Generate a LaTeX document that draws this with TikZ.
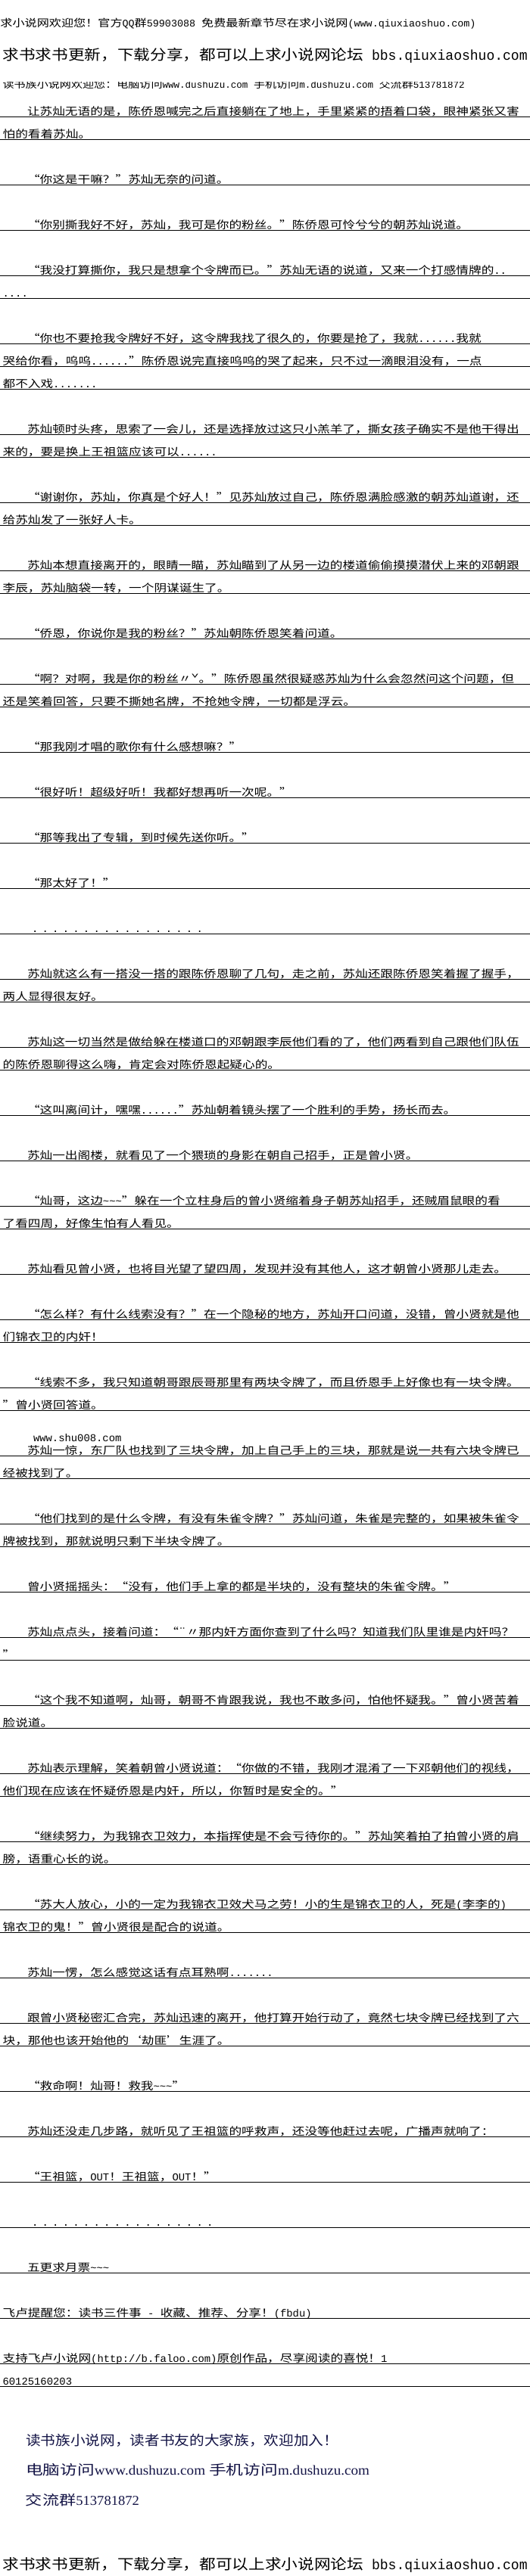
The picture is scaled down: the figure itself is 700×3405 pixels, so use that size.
\documentclass[tikz,border=0pt]{standalone}
\usepackage{fontspec}
\usepackage{graphicx}
\newfontfamily\cjk[FakeStretch=1.19]{Noto Sans CJK SC}
\newfontfamily\latf[Scale=0.99]{Liberation Mono}
\newfontfamily\serf{Liberation Serif}
\newcommand\lat[1]{{\latf #1}}
\newcommand\tld{{\latf\char"7E\relax}}
\newcommand\dt{\makebox[13.6pt][l]{\lat{.}}}
\definecolor{footblue}{RGB}{20,20,70}
\tikzset{
  body/.style={anchor=base west, inner sep=0pt, outer sep=0pt, font=\cjk\fontsize{14pt}{14pt}\selectfont},
  head/.style={anchor=base west, inner sep=0pt, outer sep=0pt},
  foot/.style={anchor=base west, inner sep=0pt, outer sep=0pt, text=footblue, font=\cjk\fontsize{18pt}{18pt}\selectfont},
  uline/.style={line width=1pt, black},
}
\newcommand\txtline[3]{%
  \draw[uline] (0,{4.3+30*#1}) -- (700,{4.3+30*#1});
  \node[body] (t#1) at (#2,{4.3+30*#1-1.5}) {#3};}
\begin{document}
\begin{tikzpicture}[x=1pt,y=-1pt]
\useasboundingbox (0,0) rectangle (700,3405);
\fill[white] (0,0) rectangle (700,3405);
% header
\node[head] (h1) at (0.5,35.5) {\fontsize{13.5pt}{14pt}\selectfont\resizebox{628pt}{\height}{\cjk 求小说网欢迎您！官方\lat{QQ}群\lat{59903088 }免费最新章节尽在求小说网\lat{(www.qiuxiaoshuo.com)}}};
\node[head] (h2) at (3.6,79) {\fontsize{19pt}{20pt}\selectfont\resizebox{693pt}{\height}{\cjk 求书求书更新，下载分享，都可以上求小说网论坛\lat{ bbs.qiuxiaoshuo.com}}};
\begin{scope}
\clip (0,108) rectangle (700,130);
\node[head] (h3) at (3.6,116) {\fontsize{13pt}{14pt}\selectfont\resizebox{610pt}{\height}{\cjk 读书族小说网欢迎您：电脑访问\lat{www.dushuzu.com }手机访问\lat{m.dushuzu.com }交流群\lat{513781872}}};
\end{scope}
% body
\txtline{5}{36}{让苏灿无语的是，陈侨恩喊完之后直接躺在了地上，手里紧紧的捂着口袋，眼神紧张又害}
\txtline{6}{3.6}{怕的看着苏灿。}
\txtline{8}{36}{“你这是干嘛？”苏灿无奈的问道。}
\txtline{10}{36}{“你别撕我好不好，苏灿，我可是你的粉丝。”陈侨恩可怜兮兮的朝苏灿说道。}
\txtline{12}{36}{“我没打算撕你，我只是想拿个令牌而已。”苏灿无语的说道，又来一个打感情牌的\lat{..}}
\txtline{13}{3.6}{\lat{....}}
\txtline{15}{36}{“你也不要抢我令牌好不好，这令牌我找了很久的，你要是抢了，我就\lat{......}我就}
\txtline{16}{3.6}{哭给你看，呜呜\lat{......}”陈侨恩说完直接呜呜的哭了起来，只不过一滴眼泪没有，一点}
\txtline{17}{3.6}{都不入戏\lat{.......}}
\txtline{19}{36}{苏灿顿时头疼，思索了一会儿，还是选择放过这只小羔羊了，撕女孩子确实不是他干得出}
\txtline{20}{3.6}{来的，要是换上王祖篮应该可以\lat{......}}
\txtline{22}{36}{“谢谢你，苏灿，你真是个好人！”见苏灿放过自己，陈侨恩满脸感激的朝苏灿道谢，还}
\txtline{23}{3.6}{给苏灿发了一张好人卡。}
\txtline{25}{36}{苏灿本想直接离开的，眼睛一瞄，苏灿瞄到了从另一边的楼道偷偷摸摸潜伏上来的邓朝跟}
\txtline{26}{3.6}{李辰，苏灿脑袋一转，一个阴谋诞生了。}
\txtline{28}{36}{“侨恩，你说你是我的粉丝？”苏灿朝陈侨恩笑着问道。}
\txtline{30}{36}{“啊？对啊，我是你的粉丝〃ˇ。”陈侨恩虽然很疑惑苏灿为什么会忽然问这个问题，但}
\txtline{31}{3.6}{还是笑着回答，只要不撕她名牌，不抢她令牌，一切都是浮云。}
\txtline{33}{36}{“那我刚才唱的歌你有什么感想嘛？”}
\txtline{35}{36}{“很好听！超级好听！我都好想再听一次呢。”}
\txtline{37}{36}{“那等我出了专辑，到时候先送你听。”}
\txtline{39}{36}{“那太好了！”}
\txtline{41}{42}{\dt\dt\dt\dt\dt\dt\dt\dt\dt\dt\dt\dt\dt\dt\dt\dt\dt}
\txtline{43}{36}{苏灿就这么有一搭没一搭的跟陈侨恩聊了几句，走之前，苏灿还跟陈侨恩笑着握了握手，}
\txtline{44}{3.6}{两人显得很友好。}
\txtline{46}{36}{苏灿这一切当然是做给躲在楼道口的邓朝跟李辰他们看的了，他们两看到自己跟他们队伍}
\txtline{47}{3.6}{的陈侨恩聊得这么嗨，肯定会对陈侨恩起疑心的。}
\txtline{49}{36}{“这叫离间计，嘿嘿\lat{......}”苏灿朝着镜头摆了一个胜利的手势，扬长而去。}
\txtline{51}{36}{苏灿一出阁楼，就看见了一个猥琐的身影在朝自己招手，正是曾小贤。}
\txtline{53}{36}{“灿哥，这边\tld\tld\tld”躲在一个立柱身后的曾小贤缩着身子朝苏灿招手，还贼眉鼠眼的看}
\txtline{54}{3.6}{了看四周，好像生怕有人看见。}
\txtline{56}{36}{苏灿看见曾小贤，也将目光望了望四周，发现并没有其他人，这才朝曾小贤那儿走去。}
\txtline{58}{36}{“怎么样？有什么线索没有？”在一个隐秘的地方，苏灿开口问道，没错，曾小贤就是他}
\txtline{59}{3.6}{们锦衣卫的内奸！}
\txtline{61}{36}{“线索不多，我只知道朝哥跟辰哥那里有两块令牌了，而且侨恩手上好像也有一块令牌。}
\txtline{62}{3.6}{”曾小贤回答道。}
\node[body] (w63) at (44,1905) {\lat{www.shu008.com}};
\txtline{64}{36}{苏灿一惊，东厂队也找到了三块令牌，加上自己手上的三块，那就是说一共有六块令牌已}
\txtline{65}{3.6}{经被找到了。}
\txtline{67}{36}{“他们找到的是什么令牌，有没有朱雀令牌？”苏灿问道，朱雀是完整的，如果被朱雀令}
\txtline{68}{3.6}{牌被找到，那就说明只剩下半块令牌了。}
\txtline{70}{36}{曾小贤摇摇头：“没有，他们手上拿的都是半块的，没有整块的朱雀令牌。”}
\txtline{72}{36}{苏灿点点头，接着问道：“¨〃那内奸方面你查到了什么吗？知道我们队里谁是内奸吗？}
\txtline{73}{3.6}{”}
\txtline{75}{36}{“这个我不知道啊，灿哥，朝哥不肯跟我说，我也不敢多问，怕他怀疑我。”曾小贤苦着}
\txtline{76}{3.6}{脸说道。}
\txtline{78}{36}{苏灿表示理解，笑着朝曾小贤说道：“你做的不错，我刚才混淆了一下邓朝他们的视线，}
\txtline{79}{3.6}{他们现在应该在怀疑侨恩是内奸，所以，你暂时是安全的。”}
\txtline{81}{36}{“继续努力，为我锦衣卫效力，本指挥使是不会亏待你的。”苏灿笑着拍了拍曾小贤的肩}
\txtline{82}{3.6}{膀，语重心长的说。}
\txtline{84}{36}{“苏大人放心，小的一定为我锦衣卫效犬马之劳！小的生是锦衣卫的人，死是\lat{(}李李的\lat{)}}
\txtline{85}{3.6}{锦衣卫的鬼！”曾小贤很是配合的说道。}
\txtline{87}{36}{苏灿一愣，怎么感觉这话有点耳熟啊\lat{.......}}
\txtline{89}{36}{跟曾小贤秘密汇合完，苏灿迅速的离开，他打算开始行动了，竟然七块令牌已经找到了六}
\txtline{90}{3.6}{块，那他也该开始他的‘劫匪’生涯了。}
\txtline{92}{36}{“救命啊！灿哥！救我\tld\tld\tld”}
\txtline{94}{36}{苏灿还没走几步路，就听见了王祖篮的呼救声，还没等他赶过去呢，广播声就响了：}
\txtline{96}{36}{“王祖篮，\lat{OUT}！王祖篮，\lat{OUT}！”}
\txtline{98}{42}{\dt\dt\dt\dt\dt\dt\dt\dt\dt\dt\dt\dt\dt\dt\dt\dt\dt\dt}
\txtline{100}{36}{五更求月票\tld\tld\tld}
\txtline{102}{3.6}{飞卢提醒您：读书三件事\lat{ - }收藏、推荐、分享！\lat{(fbdu)}}
\txtline{104}{3.6}{支持飞卢小说网\lat{(http://b.faloo.com)}原创作品，尽享阅读的喜悦！\lat{1}}
\txtline{105}{3.6}{\lat{60125160203}}
% footer
\node[foot] (f1) at (34,3232) {\resizebox{413pt}{\height}{读书族小说网，读者书友的大家族，欢迎加入！}};
\node[foot] (f2) at (34,3271) {\resizebox{454pt}{\height}{电脑访问{\serf www.dushuzu.com} 手机访问{\serf m.dushuzu.com}}};
\node[foot] (f3) at (34,3311) {\resizebox{150pt}{\height}{交流群{\serf 513781872}}};
\node[head] (h4) at (3.6,3396) {\fontsize{19pt}{20pt}\selectfont\resizebox{693pt}{\height}{\cjk 求书求书更新，下载分享，都可以上求小说网论坛\lat{ bbs.qiuxiaoshuo.com}}};
\end{tikzpicture}
\end{document}
